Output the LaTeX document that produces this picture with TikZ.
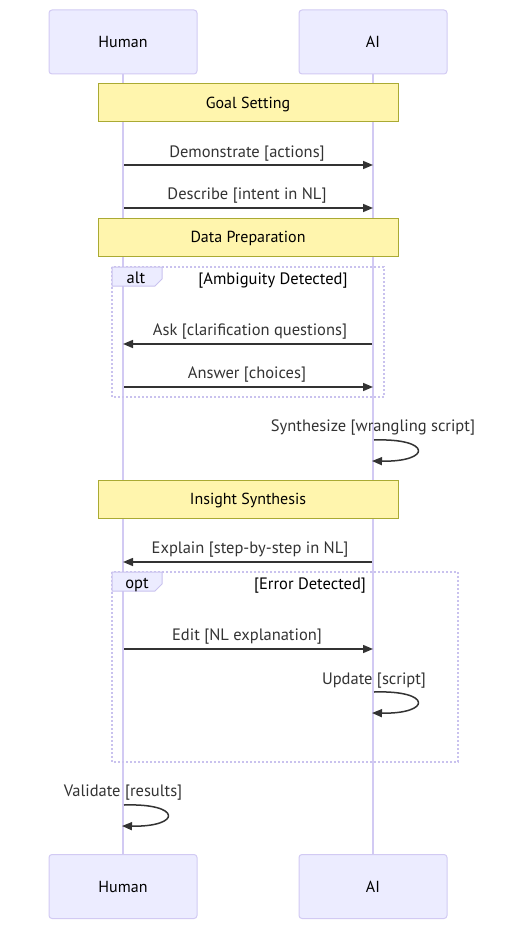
\documentclass[tikz,border=0pt]{standalone}
\usepackage{fontspec}
\setmainfont{PT Sans}
\usetikzlibrary{arrows.meta}
\definecolor{actfill}{HTML}{ECECFF}
\definecolor{actline}{HTML}{D2CAF3}
\definecolor{notefill}{HTML}{FFF5AD}
\definecolor{noteline}{HTML}{AAAA33}
\definecolor{msg}{HTML}{333333}
\definecolor{loopline}{HTML}{C9C2EE}
\tikzset{
  actor/.style={draw=actline, fill=actfill, line width=1pt, rounded corners=3pt, minimum width=148pt, minimum height=64pt, inner sep=0pt, text depth=0pt, font=\fontsize{16}{19}\selectfont, text=black},
  notebox/.style={draw=noteline, fill=notefill, line width=1pt, minimum width=300pt, minimum height=38pt, inner sep=0pt, text depth=0pt, font=\fontsize{16}{19}\selectfont, text=black},
  lifeline/.style={draw=actline, line width=1.5pt},
  message/.style={draw=msg, line width=1.5pt, -{Triangle[length=10pt,width=8pt]}},
  msglabel/.style={font=\fontsize{16.5}{19}\selectfont, text=msg, inner sep=0pt, text depth=0pt},
  frame/.style={draw=loopline, line width=1.5pt, dash pattern=on 2pt off 2pt},
  tab/.style={draw=loopline, fill=actfill, line width=1pt},
  framelabel/.style={font=\fontsize{16.5}{19}\selectfont, text=black, inner sep=0pt, text depth=0pt}
}
\begin{document}
\begin{tikzpicture}[x=1pt,y=-1pt]
\useasboundingbox (0,0) rectangle (524,944);
% actors
\node[actor] (htop) at (123,42) {Human};
\node[actor] (atop) at (373,42) {AI};
\node[actor] (hbot) at (123,886.5) {Human};
\node[actor] (abot) at (373,886.5) {AI};
\draw[lifeline] (htop.south) -- (hbot.north);
\draw[lifeline] (atop.south) -- (abot.north);
% notes
\node[notebox] (n1) at (248,103) {Goal Setting};
\node[notebox] (n2) at (248,237) {Data Preparation};
\node[notebox] (n3) at (248,499) {Insight Synthesis};
% alt frame
\draw[frame] (112,267) rectangle (384,397);
\draw[tab] (112,267) -- (162,267) -- (162,279) -- (155,286) -- (112,286) -- cycle;
\node[framelabel] (altl) at (136,278) {alt};
\node[framelabel] (altc) at (273,279) {[Ambiguity Detected]};
% opt frame
\draw[frame] (112,572) rectangle (458,762);
\draw[tab] (112,572) -- (162,572) -- (162,584) -- (155,591) -- (112,591) -- cycle;
\node[framelabel] (optl) at (137,583) {opt};
\node[framelabel] (optc) at (310,584) {[Error Detected]};
% messages
\coordinate (h1) at (124,165); \coordinate (a1) at (373,165);
\draw[message] (h1) -- (a1);
\node[msglabel] (l1) at (247,152) {Demonstrate [actions]};
\coordinate (h2) at (124,208); \coordinate (a2) at (373,208);
\draw[message] (h2) -- (a2);
\node[msglabel] (l2) at (247,194) {Describe [intent in NL]};
\coordinate (h3) at (123,344); \coordinate (a3) at (372,344);
\draw[message] (a3) -- (h3);
\node[msglabel] (l3) at (250,330) {Ask [clarification questions]};
\coordinate (h4) at (124,387); \coordinate (a4) at (373,387);
\draw[message] (h4) -- (a4);
\node[msglabel] (l4) at (247,373) {Answer [choices]};
% self loop synthesize
\coordinate (s1) at (374,440); \coordinate (s2) at (372,461);
\draw[message] (s1) .. controls (432,438) and (432,462) .. (s2);
\node[msglabel] (l5) at (373,426) {Synthesize [wrangling script]};
\coordinate (h6) at (123,562); \coordinate (a6) at (372,562);
\draw[message] (a6) -- (h6);
\node[msglabel] (l6) at (250,548) {Explain [step-by-step in NL]};
\coordinate (h7) at (124,649); \coordinate (a7) at (373,649);
\draw[message] (h7) -- (a7);
\node[msglabel] (l7) at (247,635) {Edit [NL explanation]};
\coordinate (u1) at (374,692); \coordinate (u2) at (372,713);
\draw[message] (u1) .. controls (432,690) and (432,714) .. (u2);
\node[msglabel] (l8) at (374,679) {Update [script]};
\coordinate (v1) at (124,805); \coordinate (v2) at (122,826);
\draw[message] (v1) .. controls (182,803) and (182,827) .. (v2);
\node[msglabel] (l9) at (123,791) {Validate [results]};
\end{tikzpicture}
\end{document}
